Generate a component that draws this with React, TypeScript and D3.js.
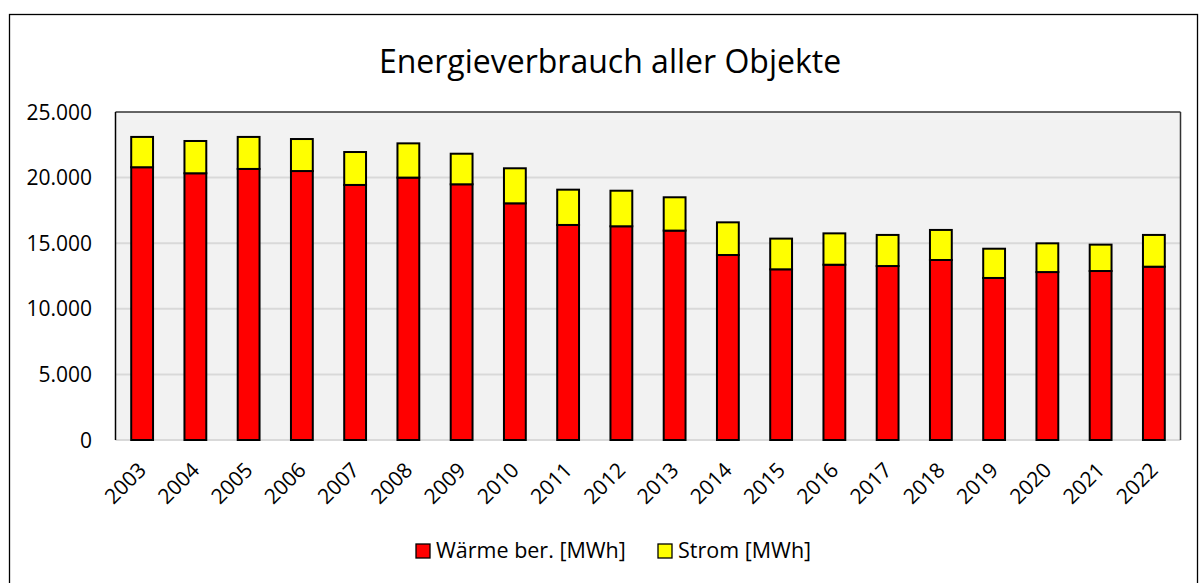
import React from "react";
import * as d3 from "d3";

const years = ["2003","2004","2005","2006","2007","2008","2009","2010","2011","2012","2013","2014","2015","2016","2017","2018","2019","2020","2021","2022"];
const waerme = [20790,20330,20660,20500,19440,20000,19490,18040,16390,16290,15960,14100,13010,13360,13260,13720,12350,12800,12880,13210];
const totals = [23100,22790,23100,22940,21950,22610,21820,20710,19080,19000,18500,16590,15350,15750,15630,16010,14580,14990,14890,15630];
const yTicks = [0, 5000, 10000, 15000, 20000, 25000];
const seriesNames = ["Wärme ber. [MWh]", "Strom [MWh]"];
const seriesColors = ["#ff0000", "#ffff00"];

const W = 1199, H = 583;
const plot = { left: 115.5, right: 1180.5, top: 112, bottom: 440 };
const FONT = "'Open Sans', sans-serif";

export default function App() {
  const x = d3.scaleBand<string>().domain(years).range([plot.left, plot.right]).paddingInner(0.59).paddingOuter(0.295);
  const y = d3.scaleLinear().domain([0, 25000]).range([plot.bottom, plot.top]);
  const fmt = (v: number) => (v === 0 ? "0" : d3.format(",")(v).replace(/,/g, "."));
  const bw = x.bandwidth();
  return (
    <svg width={W} height={H} style={{ position: "absolute", left: 0, top: 0, background: "#fff" }}>
      <rect x={9.5} y={14.5} width={1188} height={600} fill="#fff" stroke="#000" strokeWidth={1.3} />
      <text x={610} y={73} textAnchor="middle" fontFamily={FONT} fontSize={32} fill="#000">Energieverbrauch aller Objekte</text>
      <rect x={plot.left} y={plot.top} width={plot.right - plot.left} height={plot.bottom - plot.top} fill="#f2f2f2" />
      {yTicks.filter(t => t > 0 && t < 25000).map(t => (
        <line key={t} x1={plot.left} x2={plot.right} y1={y(t)} y2={y(t)} stroke="#d9d9d9" strokeWidth={2} />
      ))}
      <line x1={plot.left} x2={plot.right} y1={plot.bottom} y2={plot.bottom} stroke="#d9d9d9" strokeWidth={2} />
      <line x1={plot.left} x2={plot.right} y1={plot.top} y2={plot.top} stroke="#333" strokeWidth={1.5} />
      <line x1={plot.right} x2={plot.right} y1={plot.top} y2={plot.bottom} stroke="#333" strokeWidth={1.5} />
      <line x1={plot.left} x2={plot.left} y1={plot.top} y2={plot.bottom} stroke="#000" strokeWidth={1.5} />
      {years.map((yr, i) => {
        const bx = x(yr)!;
        return (
          <g key={yr}>
            <rect x={bx} y={y(waerme[i])} width={bw} height={y(0) - y(waerme[i])} fill={seriesColors[0]} stroke="#000" strokeWidth={2} />
            <rect x={bx} y={y(totals[i])} width={bw} height={y(waerme[i]) - y(totals[i])} fill={seriesColors[1]} stroke="#000" strokeWidth={2} />
          </g>
        );
      })}
      {yTicks.map(t => (
        <text key={t} x={92} y={y(t)} dy="0.36em" textAnchor="end" fontFamily={FONT} fontSize={21} fill="#000">{fmt(t)}</text>
      ))}
      {years.map(yr => {
        const cx = x(yr)! + bw / 2 - 5;
        const cy = 461;
        return (
          <text key={yr} x={cx} y={cy} textAnchor="end" dy="0.7em" transform={`rotate(-45 ${cx} ${cy})`} fontFamily={FONT} fontSize={21} fill="#000">{yr}</text>
        );
      })}
      {seriesNames.map((n, i) => {
        const lx = i === 0 ? 416 : 658;
        return (
          <g key={n}>
            <rect x={lx} y={544} width={14} height={14} fill={seriesColors[i]} stroke="#000" strokeWidth={1.3} />
            <text x={lx + 20} y={558} fontFamily={FONT} fontSize={21.5} fill="#000">{n}</text>
          </g>
        );
      })}
    </svg>
  );
}
